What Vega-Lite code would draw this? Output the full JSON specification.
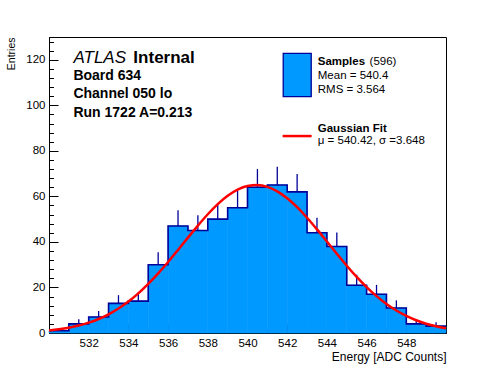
{
  "$schema": "https://vega.github.io/schema/vega-lite/v6.json",
  "width": 397,
  "height": 296,
  "autosize": {"type": "none"},
  "padding": {"left": 49, "top": 37, "right": 50, "bottom": 39},
  "background": "white",
  "config": {
    "view": {"stroke": "black", "strokeWidth": 1},
    "font": "Liberation Sans",
    "axis": {
      "grid": false,
      "zindex": 1,
      "domainColor": "black",
      "tickColor": "black",
      "labelColor": "black",
      "titleColor": "black",
      "labelFont": "Liberation Sans",
      "titleFont": "Liberation Sans",
      "titleFontWeight": "normal",
      "labelFontSize": 11.5,
      "titleFontSize": 12,
      "domainWidth": 1,
      "tickWidth": 1
    }
  },
  "datasets": {
    "hist": [
      {"bin_start": 530, "bin_end": 531, "center": 530.5, "count": 1, "hi": 2},
      {"bin_start": 531, "bin_end": 532, "center": 531.5, "count": 4, "hi": 6},
      {"bin_start": 532, "bin_end": 533, "center": 532.5, "count": 7, "hi": 9.65},
      {"bin_start": 533, "bin_end": 534, "center": 533.5, "count": 13, "hi": 16.61},
      {"bin_start": 534, "bin_end": 535, "center": 534.5, "count": 14, "hi": 17.74},
      {"bin_start": 535, "bin_end": 536, "center": 535.5, "count": 30, "hi": 35.48},
      {"bin_start": 536, "bin_end": 537, "center": 536.5, "count": 47, "hi": 53.86},
      {"bin_start": 537, "bin_end": 538, "center": 537.5, "count": 45, "hi": 51.71},
      {"bin_start": 538, "bin_end": 539, "center": 538.5, "count": 50, "hi": 57.07},
      {"bin_start": 539, "bin_end": 540, "center": 539.5, "count": 55, "hi": 62.42},
      {"bin_start": 540, "bin_end": 541, "center": 540.5, "count": 64, "hi": 72},
      {"bin_start": 541, "bin_end": 542, "center": 541.5, "count": 65, "hi": 73.06},
      {"bin_start": 542, "bin_end": 543, "center": 542.5, "count": 62, "hi": 69.87},
      {"bin_start": 543, "bin_end": 544, "center": 543.5, "count": 44, "hi": 50.63},
      {"bin_start": 544, "bin_end": 545, "center": 544.5, "count": 38, "hi": 44.16},
      {"bin_start": 545, "bin_end": 546, "center": 545.5, "count": 21, "hi": 25.58},
      {"bin_start": 546, "bin_end": 547, "center": 546.5, "count": 17, "hi": 21.12},
      {"bin_start": 547, "bin_end": 548, "center": 547.5, "count": 11, "hi": 14.32},
      {"bin_start": 548, "bin_end": 549, "center": 548.5, "count": 4, "hi": 6},
      {"bin_start": 549, "bin_end": 550, "center": 549.5, "count": 3, "hi": 4.73}
    ],
    "fit": [
      {"x": 530, "y": 1.10}, {"x": 530.5, "y": 1.61}, {"x": 531, "y": 2.32}, {"x": 531.5, "y": 3.27},
      {"x": 532, "y": 4.53}, {"x": 532.5, "y": 6.16}, {"x": 533, "y": 8.22}, {"x": 533.5, "y": 10.76},
      {"x": 534, "y": 13.82}, {"x": 534.5, "y": 17.42}, {"x": 535, "y": 21.56}, {"x": 535.5, "y": 26.18},
      {"x": 536, "y": 31.20}, {"x": 536.5, "y": 36.49}, {"x": 537, "y": 41.89}, {"x": 537.5, "y": 47.18},
      {"x": 538, "y": 52.16}, {"x": 538.5, "y": 56.59}, {"x": 539, "y": 60.26}, {"x": 539.5, "y": 62.97},
      {"x": 540, "y": 64.57}, {"x": 540.5, "y": 64.98}, {"x": 541, "y": 64.18}, {"x": 541.5, "y": 62.21},
      {"x": 542, "y": 59.18}, {"x": 542.5, "y": 55.25}, {"x": 543, "y": 50.62}, {"x": 543.5, "y": 45.51},
      {"x": 544, "y": 40.16}, {"x": 544.5, "y": 34.78}, {"x": 545, "y": 29.56}, {"x": 545.5, "y": 24.65},
      {"x": 546, "y": 20.18}, {"x": 546.5, "y": 16.21}, {"x": 547, "y": 12.78}, {"x": 547.5, "y": 9.89},
      {"x": 548, "y": 7.51}, {"x": 548.5, "y": 5.59}, {"x": 549, "y": 4.09}, {"x": 549.5, "y": 2.94},
      {"x": 550, "y": 2.07}
    ],
    "one": [{}]
  },
  "resolve": {"axis": {"x": "independent", "y": "independent"}},
  "layer": [
    {
      "data": {"name": "hist"},
      "mark": {"type": "rect", "fill": "#0099ff", "stroke": "#0099ff", "strokeWidth": 0.6},
      "encoding": {
        "x": {
          "field": "bin_start", "type": "quantitative",
          "scale": {"domain": [530, 550], "nice": false, "zero": false},
          "axis": {
            "orient": "bottom",
            "values": [532, 534, 536, 538, 540, 542, 544, 546, 548],
            "tickSize": -9,
            "labelPadding": 13.5,
            "labelFlush": false,
            "title": "Energy [ADC Counts]",
            "titleAnchor": "end",
            "titleAlign": "right",
            "titlePadding": 2
          }
        },
        "x2": {"field": "bin_end"},
        "y": {
          "field": "count", "type": "quantitative",
          "scale": {"domain": [0, 130], "nice": false, "zero": true},
          "axis": {
            "orient": "left",
            "values": [0, 20, 40, 60, 80, 100, 120],
            "tickSize": -9,
            "labelPadding": 13,
            "labelFlush": false,
            "title": "Entries",
            "titleAnchor": "end",
            "titleFontSize": 10.5,
            "titlePadding": 9
          }
        },
        "y2": {"datum": 0}
      }
    },
    {
      "data": {"name": "hist"},
      "transform": [{"fold": ["bin_start", "bin_end"], "as": ["edge", "xpos"]}],
      "mark": {"type": "line", "stroke": "#000099", "strokeWidth": 1.6},
      "encoding": {
        "x": {"field": "xpos", "type": "quantitative", "axis": null},
        "y": {"field": "count", "type": "quantitative", "axis": null},
        "order": [{"field": "xpos", "type": "quantitative"}, {"field": "edge", "type": "nominal"}]
      }
    },
    {
      "data": {"name": "hist"},
      "mark": {"type": "rule", "stroke": "#000099", "strokeWidth": 1.3},
      "encoding": {
        "x": {
          "field": "center", "type": "quantitative",
          "axis": {
            "orient": "bottom",
            "values": [530.5, 531, 531.5, 532.5, 533, 533.5, 534.5, 535, 535.5, 536.5, 537, 537.5, 538.5, 539, 539.5, 540.5, 541, 541.5, 542.5, 543, 543.5, 544.5, 545, 545.5, 546.5, 547, 547.5, 548.5, 549, 549.5],
            "ticks": true,
            "tickSize": -4.5,
            "labels": false,
            "domain": true,
            "title": null
          }
        },
        "y": {
          "field": "count", "type": "quantitative",
          "axis": {
            "orient": "left",
            "values": [4, 8, 12, 16, 24, 28, 32, 36, 44, 48, 52, 56, 64, 68, 72, 76, 84, 88, 92, 96, 104, 108, 112, 116, 124, 128],
            "ticks": true,
            "tickSize": -4.5,
            "labels": false,
            "domain": true,
            "title": null
          }
        },
        "y2": {"field": "hi"}
      }
    },
    {
      "data": {"name": "fit"},
      "mark": {"type": "line", "stroke": "#ff0000", "strokeWidth": 2.5, "interpolate": "monotone"},
      "encoding": {
        "x": {"field": "x", "type": "quantitative", "axis": null},
        "y": {"field": "y", "type": "quantitative", "axis": null}
      }
    },
    {
      "data": {"name": "one"},
      "mark": {"type": "text", "text": "ATLAS", "font": "Liberation Sans", "fontStyle": "italic", "fontSize": 17, "align": "left", "baseline": "alphabetic", "color": "black"},
      "encoding": {
        "x": {"datum": 531.23, "type": "quantitative", "axis": null},
        "y": {"datum": 118.8, "type": "quantitative", "axis": null}
      }
    },
    {
      "data": {"name": "one"},
      "mark": {"type": "text", "text": "Internal", "font": "Liberation Sans", "fontWeight": "bold", "fontSize": 17, "align": "left", "baseline": "alphabetic", "color": "black"},
      "encoding": {
        "x": {"datum": 534.25, "type": "quantitative", "axis": null},
        "y": {"datum": 118.8, "type": "quantitative", "axis": null}
      }
    },
    {
      "data": {"name": "one"},
      "mark": {"type": "text", "text": "Board 634", "font": "Liberation Sans", "fontWeight": "bold", "fontSize": 14, "align": "left", "baseline": "alphabetic", "color": "black"},
      "encoding": {
        "x": {"datum": 531.23, "type": "quantitative", "axis": null},
        "y": {"datum": 111.1, "type": "quantitative", "axis": null}
      }
    },
    {
      "data": {"name": "one"},
      "mark": {"type": "text", "text": "Channel 050 lo", "font": "Liberation Sans", "fontWeight": "bold", "fontSize": 14, "align": "left", "baseline": "alphabetic", "color": "black"},
      "encoding": {
        "x": {"datum": 531.23, "type": "quantitative", "axis": null},
        "y": {"datum": 103.0, "type": "quantitative", "axis": null}
      }
    },
    {
      "data": {"name": "one"},
      "mark": {"type": "text", "text": "Run 1722 A=0.213", "font": "Liberation Sans", "fontWeight": "bold", "fontSize": 14, "align": "left", "baseline": "alphabetic", "color": "black"},
      "encoding": {
        "x": {"datum": 531.23, "type": "quantitative", "axis": null},
        "y": {"datum": 94.7, "type": "quantitative", "axis": null}
      }
    },
    {
      "data": {"name": "one"},
      "mark": {"type": "rect", "fill": "#0099ff", "stroke": "#000099", "strokeWidth": 1.3},
      "encoding": {
        "x": {"datum": 541.8, "type": "quantitative", "axis": null},
        "x2": {"datum": 543.21},
        "y": {"datum": 122.8, "type": "quantitative", "axis": null},
        "y2": {"datum": 103.8}
      }
    },
    {
      "data": {"name": "one"},
      "mark": {"type": "text", "text": "Samples", "font": "Liberation Sans", "fontWeight": "bold", "fontSize": 11.5, "align": "left", "baseline": "alphabetic", "color": "black"},
      "encoding": {
        "x": {"datum": 543.54, "type": "quantitative", "axis": null},
        "y": {"datum": 117.6, "type": "quantitative", "axis": null}
      }
    },
    {
      "data": {"name": "one"},
      "mark": {"type": "text", "text": "(596)", "font": "Liberation Sans", "fontSize": 11.5, "align": "left", "baseline": "alphabetic", "color": "black"},
      "encoding": {
        "x": {"datum": 546.15, "type": "quantitative", "axis": null},
        "y": {"datum": 117.6, "type": "quantitative", "axis": null}
      }
    },
    {
      "data": {"name": "one"},
      "mark": {"type": "text", "text": "Mean = 540.4", "font": "Liberation Sans", "fontSize": 11.5, "align": "left", "baseline": "alphabetic", "color": "black"},
      "encoding": {
        "x": {"datum": 543.54, "type": "quantitative", "axis": null},
        "y": {"datum": 111.4, "type": "quantitative", "axis": null}
      }
    },
    {
      "data": {"name": "one"},
      "mark": {"type": "text", "text": "RMS = 3.564", "font": "Liberation Sans", "fontSize": 11.5, "align": "left", "baseline": "alphabetic", "color": "black"},
      "encoding": {
        "x": {"datum": 543.54, "type": "quantitative", "axis": null},
        "y": {"datum": 105.2, "type": "quantitative", "axis": null}
      }
    },
    {
      "data": {"name": "one"},
      "mark": {"type": "rule", "stroke": "#ff0000", "strokeWidth": 2.5},
      "encoding": {
        "x": {"datum": 541.77, "type": "quantitative", "axis": null},
        "x2": {"datum": 543.23},
        "y": {"datum": 86.5, "type": "quantitative", "axis": null}
      }
    },
    {
      "data": {"name": "one"},
      "mark": {"type": "text", "text": "Gaussian Fit", "font": "Liberation Sans", "fontWeight": "bold", "fontSize": 11.5, "align": "left", "baseline": "alphabetic", "color": "black"},
      "encoding": {
        "x": {"datum": 543.54, "type": "quantitative", "axis": null},
        "y": {"datum": 88.1, "type": "quantitative", "axis": null}
      }
    },
    {
      "data": {"name": "one"},
      "mark": {"type": "text", "text": "μ = 540.42, σ =3.648", "font": "Liberation Sans", "fontSize": 11.5, "align": "left", "baseline": "alphabetic", "color": "black"},
      "encoding": {
        "x": {"datum": 543.54, "type": "quantitative", "axis": null},
        "y": {"datum": 82.8, "type": "quantitative", "axis": null}
      }
    }
  ]
}
